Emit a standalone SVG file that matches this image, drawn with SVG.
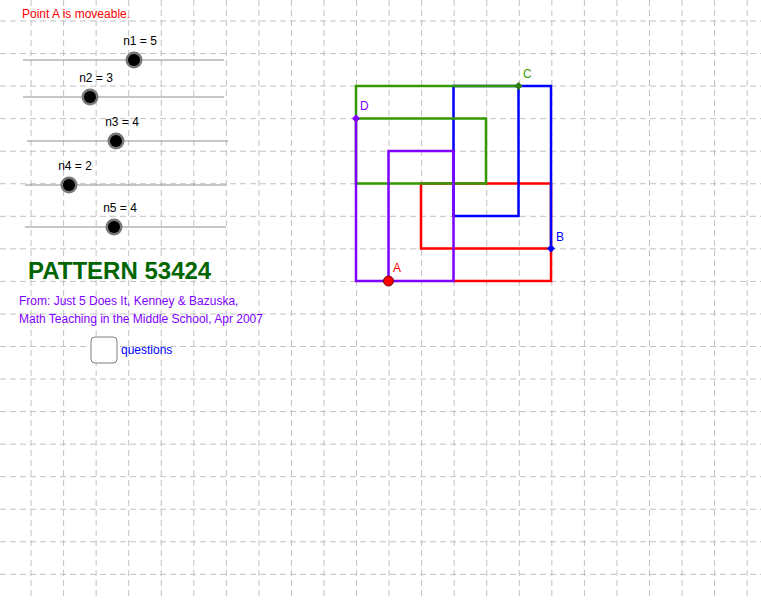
<svg xmlns="http://www.w3.org/2000/svg" width="761" height="600" viewBox="0 0 761 600">
<defs>
<pattern id="gv" x="-2" y="0" width="32.55" height="600" patternUnits="userSpaceOnUse"><line x1="0.5" y1="0" x2="0.5" y2="600" stroke="#c0c0c0" stroke-dasharray="6,4"/></pattern>
<pattern id="gh" x="0" y="20.5" width="761" height="32.55" patternUnits="userSpaceOnUse"><line x1="0" y1="0.5" x2="761" y2="0.5" stroke="#c0c0c0" stroke-dasharray="6,4"/></pattern>
</defs>
<style>
text{font-family:"Liberation Sans",Arial,sans-serif}
.lbl{font-size:12px;fill:#000;text-anchor:middle}
.track{stroke:#909090;stroke-width:1}
.ring{fill:#777}
.knob{fill:#000}
.seg{fill:none;stroke-width:2.5;stroke-linejoin:miter}
</style>
<rect width="761" height="600" fill="#fff"/>
<rect width="761" height="600" fill="url(#gv)"/>
<rect width="761" height="600" fill="url(#gh)"/>
<text x="22" y="18" font-size="12" fill="#ff0000">Point A is moveable.</text>
<g id="slider1"><line class="track" x1="23" y1="60" x2="224" y2="60"/><circle class="ring" cx="134" cy="60" r="8.5"/><circle class="knob" cx="134" cy="60" r="6"/><text class="lbl" x="140" y="45">n1 = 5</text></g>
<g id="slider2"><line class="track" x1="23" y1="97" x2="224" y2="97"/><circle class="ring" cx="90" cy="97" r="8.5"/><circle class="knob" cx="90" cy="97" r="6"/><text class="lbl" x="96" y="82">n2 = 3</text></g>
<g id="slider3"><line class="track" x1="27" y1="141" x2="228" y2="141"/><circle class="ring" cx="116" cy="141" r="8.5"/><circle class="knob" cx="116" cy="141" r="6"/><text class="lbl" x="122" y="126">n3 = 4</text></g>
<g id="slider4"><line class="track" x1="25" y1="185" x2="226" y2="185"/><circle class="ring" cx="69" cy="185" r="8.5"/><circle class="knob" cx="69" cy="185" r="6"/><text class="lbl" x="75" y="170">n4 = 2</text></g>
<g id="slider5"><line class="track" x1="25" y1="227" x2="226" y2="227"/><circle class="ring" cx="114" cy="227" r="8.5"/><circle class="knob" cx="114" cy="227" r="6"/><text class="lbl" x="120" y="212">n5 = 4</text></g>
<text x="28" y="279" font-size="24" font-weight="bold" fill="#006400">PATTERN 53424</text>
<text x="19" y="305" font-size="12" fill="#7f00ff">From: Just 5 Does It, Kenney &amp; Bazuska,</text>
<text x="19" y="323" font-size="12" fill="#7f00ff">Math Teaching in the Middle School, Apr 2007</text>
<g id="checkbox"><rect x="91" y="337" width="26" height="26" rx="4" fill="#fff" stroke="#808080"/><text x="121" y="354" font-size="12" fill="#0000ff">questions</text></g>
<g id="connectors">
<polyline class="seg" stroke="#ff0000" points="453.5,281 551,281 551,183.5 421,183.5 421,248.5 551,248.5"/>
<polyline class="seg" stroke="#0000ff" points="551,248.5 551,86 453.5,86 453.5,216 518.5,216 518.5,86"/>
<polyline class="seg" stroke="#339900" points="518.5,86 356,86 356,183.5 486,183.5 486,118.5 356,118.5"/>
<polyline class="seg" stroke="#8000ff" points="356,118.5 356,281 453.5,281 453.5,151 388.5,151 388.5,281"/>
</g>
<g id="A"><circle cx="388.5" cy="281" r="5" fill="#ff0000" stroke="#600" stroke-width="1"/><text x="393" y="272" font-size="12" fill="#ff0000">A</text></g>
<g id="B"><path d="M551,244.5 L555,248.5 L551,252.5 L547,248.5Z" fill="#0000ff"/><text x="556" y="241" font-size="12" fill="#0000ff">B</text></g>
<g id="C"><path d="M518.5,82 L522.5,86 L518.5,90 L514.5,86Z" fill="#2e7d10"/><text x="523" y="78" font-size="12" fill="#339900">C</text></g>
<g id="D"><path d="M356,114.5 L360,118.5 L356,122.5 L352,118.5Z" fill="#8000ff"/><text x="360" y="110" font-size="12" fill="#8000ff">D</text></g>
</svg>
